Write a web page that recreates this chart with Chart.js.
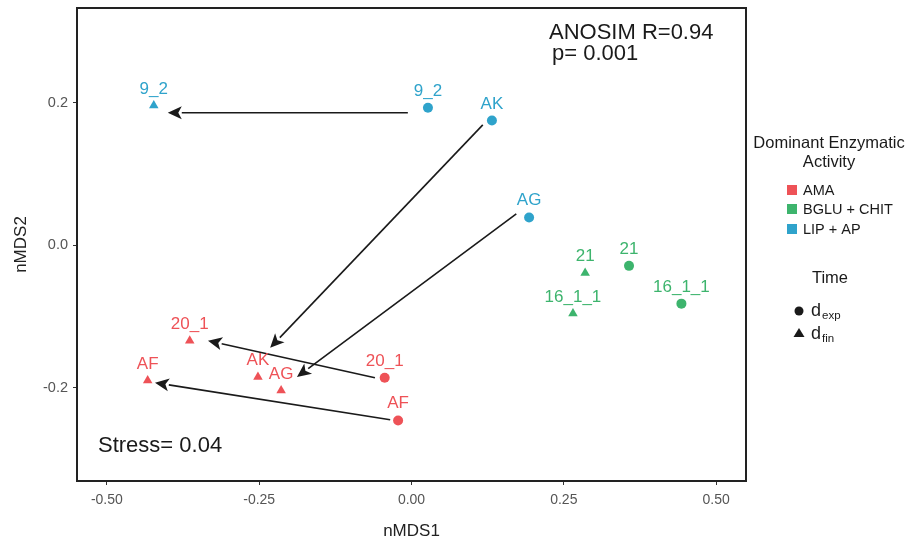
<!DOCTYPE html>
<html lang="en">
<head>
    <meta charset="UTF-8">
    <title>nMDS</title>
    <script src="https://cdn.jsdelivr.net/npm/chart.js"></script>
    <style>
        html, body { margin: 0; padding: 0; background: #fff; }
        #wrap { width: 906px; height: 542px; position: relative; }
    </style>
</head>
<body>
    <div id="wrap"><canvas id="nmdsChart"></canvas></div>
    <script>
        // samples (circle = d_exp, triangle = d_fin)
        const sampleNames = ['9_2', '9_2', 'AK', 'AG', '21', '21', '16_1_1', '16_1_1',
                             '20_1', 'AF', 'AK', 'AG', '20_1', 'AF'];
        const sampleGroup = ['LIP + AP', 'LIP + AP', 'LIP + AP', 'LIP + AP',
                             'BGLU + CHIT', 'BGLU + CHIT', 'BGLU + CHIT', 'BGLU + CHIT',
                             'AMA', 'AMA', 'AMA', 'AMA', 'AMA', 'AMA'];
        const sampleTime = ['fin', 'exp', 'exp', 'exp', 'fin', 'exp', 'fin', 'exp',
                            'fin', 'fin', 'fin', 'fin', 'exp', 'exp'];
        const nmds1 = [-0.423, 0.027, 0.132, 0.193, 0.285, 0.357, 0.265, 0.443,
                       -0.364, -0.433, -0.252, -0.214, -0.044, -0.022];
        const nmds2 = [0.196, 0.193, 0.175, 0.039, -0.039, -0.029, -0.096, -0.082,
                       -0.134, -0.190, -0.185, -0.204, -0.186, -0.246];

        // arrows d_exp -> d_fin
        const arrowFromX = [-0.006, 0.117, 0.172, -0.060, -0.035];
        const arrowFromY = [0.186, 0.169, 0.044, -0.186, -0.245];
        const arrowToX = [-0.400, -0.232, -0.188, -0.334, -0.421];
        const arrowToY = [0.186, -0.144, -0.185, -0.134, -0.193];

        const xTicks = [-0.5, -0.25, 0, 0.25, 0.5];
        const yTicks = [-0.2, 0, 0.2];

        const groups = ['AMA', 'BGLU + CHIT', 'LIP + AP'];
        const groupColors = ['#EE5257', '#3DB46D', '#2FA3CB'];

        const datasets = [];
        groups.forEach((g, gi) => {
            ['exp', 'fin'].forEach(t => {
                const pts = [];
                sampleNames.forEach((n, i) => {
                    if (sampleGroup[i] === g && sampleTime[i] === t) {
                        pts.push({ x: nmds1[i], y: nmds2[i], label: n });
                    }
                });
                datasets.push({
                    label: g + ' ' + t,
                    data: pts,
                    pointStyle: t === 'exp' ? 'circle' : 'triangle',
                    pointRadius: t === 'exp' ? 5 : 5.5,
                    backgroundColor: groupColors[gi],
                    borderColor: groupColors[gi],
                    borderWidth: 0
                });
            });
        });

        const FONT = '"Liberation Sans", Arial, sans-serif';

        const annotations = {
            id: 'annotations',
            beforeDatasetsDraw(chart) {
                const ctx = chart.ctx, xs = chart.scales.x, ys = chart.scales.y;
                ctx.save();
                ctx.strokeStyle = '#1a1a1a';
                ctx.fillStyle = '#1a1a1a';
                ctx.lineWidth = 1.6;
                for (let i = 0; i < arrowFromX.length; i++) {
                    const x1 = xs.getPixelForValue(arrowFromX[i]), y1 = ys.getPixelForValue(arrowFromY[i]);
                    const x2 = xs.getPixelForValue(arrowToX[i]), y2 = ys.getPixelForValue(arrowToY[i]);
                    const a = Math.atan2(y2 - y1, x2 - x1);
                    const hl = 14, hw = 6.5;
                    const bx = x2 - hl * Math.cos(a), by = y2 - hl * Math.sin(a);
                    ctx.beginPath();
                    ctx.moveTo(x1, y1);
                    ctx.lineTo(bx, by);
                    ctx.stroke();
                    ctx.beginPath();
                    ctx.moveTo(x2, y2);
                    ctx.lineTo(bx + hw * Math.sin(a), by - hw * Math.cos(a));
                    ctx.lineTo(bx + 0.25 * hl * Math.cos(a), by + 0.25 * hl * Math.sin(a));
                    ctx.lineTo(bx - hw * Math.sin(a), by + hw * Math.cos(a));
                    ctx.closePath();
                    ctx.fill();
                }
                ctx.restore();
            },
            afterDatasetsDraw(chart) {
                const ctx = chart.ctx, ca = chart.chartArea;
                const xs = chart.scales.x, ys = chart.scales.y;
                ctx.save();
                // point labels
                ctx.font = '17px ' + FONT;
                ctx.textAlign = 'center';
                ctx.textBaseline = 'alphabetic';
                chart.data.datasets.forEach(ds => {
                    ctx.fillStyle = ds.backgroundColor;
                    ds.data.forEach(p => {
                        ctx.fillText(p.label, xs.getPixelForValue(p.x), ys.getPixelForValue(p.y) - 12);
                    });
                });

                // statistics
                ctx.fillStyle = '#1a1a1a';
                ctx.textAlign = 'left';
                ctx.font = '22px ' + FONT;
                ctx.fillText('ANOSIM R=0.94', 549, 39);
                ctx.fillText('p= 0.001', 552, 60);
                ctx.fillText('Stress= 0.04', 98, 452);

                // panel box
                ctx.strokeStyle = '#222';
                ctx.lineWidth = 2;
                ctx.strokeRect(ca.left, ca.top, ca.right - ca.left, ca.bottom - ca.top);

                // legend: colour
                ctx.fillStyle = '#1a1a1a';
                ctx.textAlign = 'center';
                ctx.font = '16.5px ' + FONT;
                ctx.fillText('Dominant Enzymatic', 829, 148);
                ctx.fillText('Activity', 829, 167);
                ctx.textAlign = 'left';
                ctx.font = '14.5px ' + FONT;
                const ly = [190, 209, 229];
                groups.forEach((g, i) => {
                    ctx.fillStyle = groupColors[i];
                    ctx.fillRect(787, ly[i] - 5, 10, 10);
                    ctx.fillStyle = '#1a1a1a';
                    ctx.fillText(g, 803, ly[i] + 5);
                });

                // legend: time
                ctx.textAlign = 'center';
                ctx.font = '16.5px ' + FONT;
                ctx.fillText('Time', 830, 283);
                ctx.beginPath();
                ctx.arc(799, 311, 4.5, 0, Math.PI * 2);
                ctx.fill();
                ctx.beginPath();
                ctx.moveTo(799, 328);
                ctx.lineTo(804.5, 337);
                ctx.lineTo(793.5, 337);
                ctx.closePath();
                ctx.fill();
                ctx.textAlign = 'left';
                ctx.font = '18px ' + FONT;
                ctx.fillText('d', 811, 316);
                ctx.fillText('d', 811, 339);
                ctx.font = '11.5px ' + FONT;
                ctx.fillText('exp', 822, 319);
                ctx.fillText('fin', 822, 342);
                ctx.restore();
            }
        };

        new Chart(document.getElementById('nmdsChart'), {
            type: 'scatter',
            data: { datasets: datasets },
            options: {
                responsive: true,
                maintainAspectRatio: false,
                animation: false,
                layout: { padding: { top: 8, right: 160, left: 0, bottom: 0 } },
                plugins: { legend: { display: false }, tooltip: { enabled: false } },
                scales: {
                    x: {
                        type: 'linear',
                        min: -0.549, max: 0.549,
                        afterBuildTicks: s => { s.ticks = xTicks.map(v => ({ value: v })); },
                        afterFit: s => { s.height = 61; s.paddingLeft = 0; s.paddingRight = 0; },
                        grid: { drawOnChartArea: false, color: '#333', tickLength: 4, tickWidth: 1 },
                        border: { display: false },
                        ticks: {
                            color: '#555', padding: 7,
                            font: { family: FONT, size: 14 },
                            callback: v => v.toFixed(2)
                        },
                        title: { display: true, text: 'nMDS1', color: '#222', padding: { top: 2, bottom: 0 },
                                 font: { family: FONT, size: 17 } }
                    },
                    y: {
                        type: 'linear',
                        min: -0.331, max: 0.333,
                        afterBuildTicks: s => { s.ticks = yTicks.map(v => ({ value: v })); },
                        afterFit: s => { s.width = 77; s.paddingTop = 0; s.paddingBottom = 0; },
                        grid: { drawOnChartArea: false, color: '#333', tickLength: 4, tickWidth: 1 },
                        border: { display: false },
                        ticks: {
                            color: '#555', padding: 5,
                            font: { family: FONT, size: 14.5 },
                            callback: v => v.toFixed(1)
                        },
                        title: { display: true, text: 'nMDS2', color: '#222', padding: { top: 11, bottom: 0 },
                                 font: { family: FONT, size: 17 } }
                    }
                }
            },
            plugins: [annotations]
        });
    </script>
</body>
</html>
